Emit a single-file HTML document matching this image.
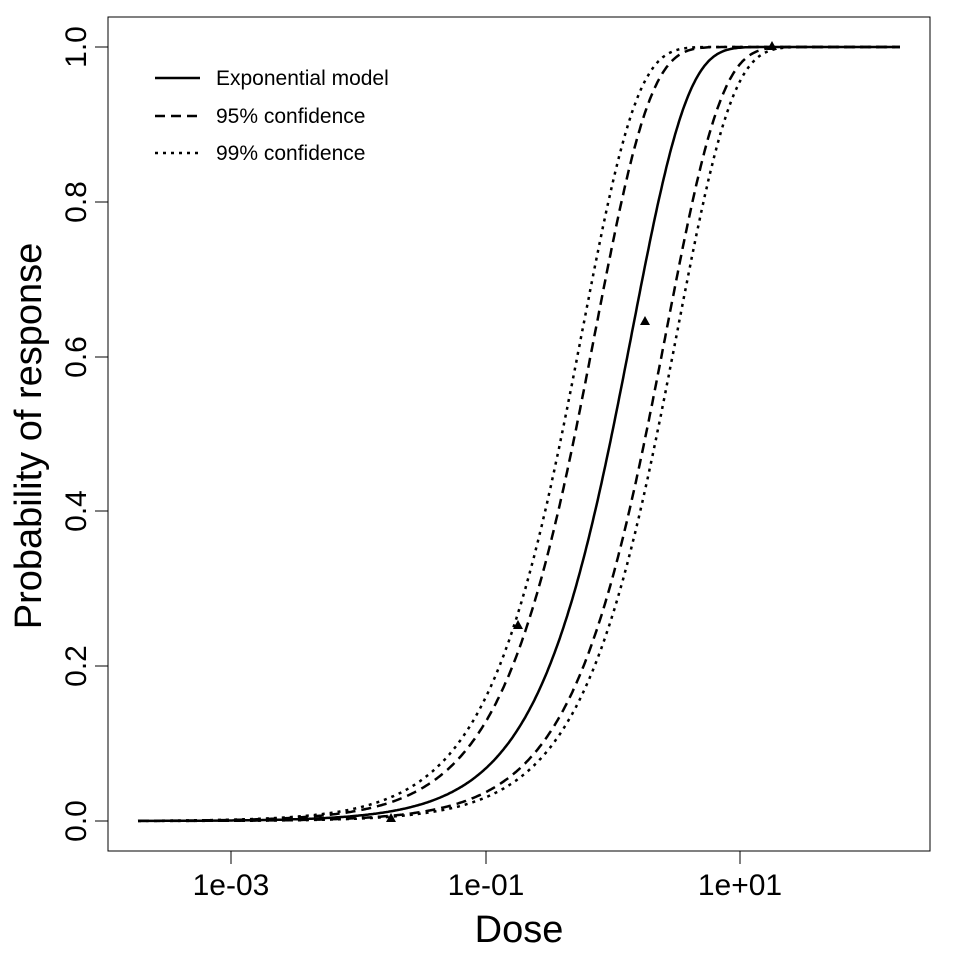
<!DOCTYPE html>
<html><head><style>body{margin:0;background:#fff}svg{display:block}text{font-family:"Liberation Sans",Arial,sans-serif}</style></head>
<body>
<svg id="s" width="960" height="960" xmlns="http://www.w3.org/2000/svg">
<rect x="108" y="17" width="822" height="834" fill="none" stroke="#000" stroke-width="1"/>
<g stroke="#000" stroke-width="1">
<line x1="231" y1="851" x2="231" y2="864"/><line x1="486" y1="851" x2="486" y2="864"/><line x1="740" y1="851" x2="740" y2="864"/>
<line x1="95" y1="821" x2="108" y2="821"/><line x1="95" y1="666" x2="108" y2="666"/><line x1="95" y1="511" x2="108" y2="511"/><line x1="95" y1="357" x2="108" y2="357"/><line x1="95" y1="202" x2="108" y2="202"/><line x1="95" y1="47" x2="108" y2="47"/>
</g>
<g font-size="30" text-anchor="middle">
<text x="231" y="895">1e-03</text><text x="486" y="895">1e-01</text><text x="740" y="895">1e+01</text>
<text transform="translate(86,821) rotate(-90)">0.0</text>
<text transform="translate(86,666) rotate(-90)">0.2</text>
<text transform="translate(86,511) rotate(-90)">0.4</text>
<text transform="translate(86,357) rotate(-90)">0.6</text>
<text transform="translate(86,202) rotate(-90)">0.8</text>
<text transform="translate(86,47) rotate(-90)">1.0</text>
</g>
<text x="519" y="942" font-size="38" text-anchor="middle">Dose</text>
<text transform="translate(41,436) rotate(-90)" font-size="38" text-anchor="middle">Probability of response</text>
<g stroke="#000" stroke-width="2.5" fill="none">
<line x1="155" y1="78" x2="200" y2="78"/>
<line x1="155" y1="116" x2="200" y2="116" stroke-dasharray="10,6"/>
<line x1="155" y1="153" x2="200" y2="153" stroke-dasharray="3,5"/>
</g>
<g font-size="21"><text x="216" y="85">Exponential model</text><text x="216" y="123">95% confidence</text><text x="216" y="160">99% confidence</text></g>
<g id="c" fill="none" stroke="#000" stroke-width="2.5"></g>
<g fill="#000">
<polygon points="391,813 386,822 396,822"/>
<polygon points="518,620 513,629 523,629"/>
<polygon points="645,316 640,325 650,325"/>
<polygon points="772,41 767,50 777,50"/>
</g>
</svg>
<script>
var g=document.getElementById('c');
function X(l){return 232+(l+3)*127}function Y(p){return 821-p*774}
[[0.707,''],[1.38,'10,6'],[0.381,'10,6'],[1.75,'3,5'],[0.312,'3,5']].forEach(function(c){
var d='';for(var l=-3.74;l<=2.26;l+=0.01){var p=1-Math.exp(-c[0]*Math.pow(10,l));d+=(d?'L':'M')+X(l).toFixed(1)+','+Y(p).toFixed(1);}
var e=document.createElementNS('http://www.w3.org/2000/svg','path');e.setAttribute('d',d);if(c[1])e.setAttribute('stroke-dasharray',c[1]);g.appendChild(e);});
</script>
</body></html>
